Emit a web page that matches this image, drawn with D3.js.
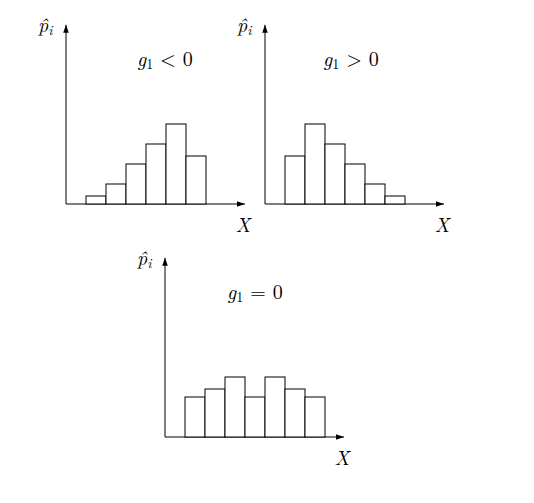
<!DOCTYPE html>
<html><head><meta charset="utf-8">
<script src="https://cdn.jsdelivr.net/npm/d3@7"></script>
<style>body{margin:0;background:#fff}svg{display:block}</style>
</head><body><div id="c"></div>
<script>
// Data
const binIndex = [1, 2, 3, 4, 5, 6, 7];
const valuesNegative = [2, 5, 10, 15, 20, 12];
const valuesPositive = [12, 20, 15, 10, 5, 2];
const valuesZero = [10, 12, 15, 10, 15, 12, 10];
const titleOps = ["<", ">", "="];
const xLabel = "X";
const yLabel = "p\u0302";

const FONT = '"Latin Modern Roman", "Liberation Serif", serif';
const W = 534, H = 503;
const svg = d3.select("#c").append("svg").attr("width", W).attr("height", H);

const defs = svg.append("defs");
defs.append("marker").attr("id", "arr").attr("viewBox", "0 0 10 10")
  .attr("refX", 10).attr("refY", 5).attr("markerWidth", 8).attr("markerHeight", 8)
  .attr("markerUnits", "userSpaceOnUse").attr("orient", "auto")
  .append("path").attr("d", "M0,1.5 L10,5 L0,8.5 Z").attr("fill", "#000");

const panels = [
  {vals: valuesNegative, ox: 66, base: 204, tx: 71, op: titleOps[0]},
  {vals: valuesPositive, ox: 265, base: 204, tx: 58, op: titleOps[1]},
  {vals: valuesZero, ox: 165, base: 437, tx: 62, op: titleOps[2]}
];

panels.forEach(p => {
  const g = svg.append("g");
  const x = d3.scaleLinear().domain([0, 9]).range([p.ox, p.ox + 180]);
  const y = d3.scaleLinear().domain([0, 45]).range([p.base, p.base - 180]);
  g.append("line").attr("x1", x(0)).attr("y1", y(0)).attr("x2", x(0)).attr("y2", y(44.8))
    .attr("stroke", "#000").attr("stroke-width", 1).attr("marker-end", "url(#arr)");
  g.append("line").attr("x1", x(0)).attr("y1", y(0)).attr("x2", x(8.95)).attr("y2", y(0))
    .attr("stroke", "#000").attr("stroke-width", 1).attr("marker-end", "url(#arr)");
  g.selectAll("rect").data(p.vals).enter().append("rect")
    .attr("x", (d, i) => x(binIndex[i]))
    .attr("y", d => y(d))
    .attr("width", (d, i) => x(binIndex[i] + 1) - x(binIndex[i]))
    .attr("height", d => y(0) - y(d))
    .attr("fill", "#fff").attr("stroke", "#000").attr("stroke-width", 1);
  g.append("text").attr("x", x(0) + 177).attr("y", p.base + 28)
    .attr("text-anchor", "middle").attr("font-size", 20).attr("font-style", "italic")
    .style("font-family", FONT).text(xLabel);
  const yl = g.append("text").attr("x", x(0) - 28).attr("y", y(45) + 8)
    .attr("font-size", 20).style("font-family", FONT);
  yl.append("tspan").attr("font-style", "italic").text(yLabel);
  yl.append("tspan").attr("font-style", "italic").attr("font-size", 14).attr("dy", 3).text("i");
  const t = g.append("text").attr("x", x(0) + p.tx).attr("y", p.base - 138)
    .attr("font-size", 20).style("font-family", FONT);
  t.append("tspan").attr("font-style", "italic").text("g");
  t.append("tspan").attr("font-size", 14).attr("dy", 3).text("1");
  t.append("tspan").attr("dy", -3).attr("dx", 7).text(p.op);
  t.append("tspan").attr("dx", 7).text("0");
});
</script></body></html>
